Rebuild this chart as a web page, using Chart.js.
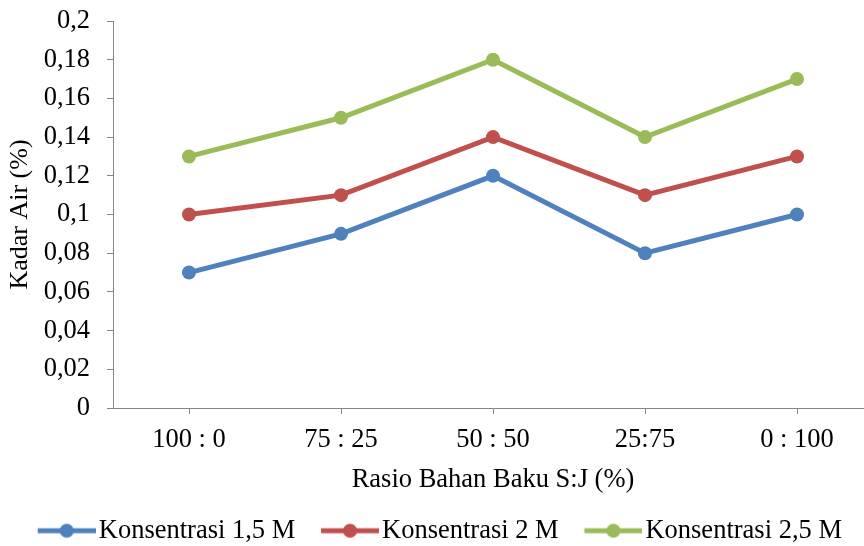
<!DOCTYPE html>
<html>
<head>
<meta charset="utf-8">
<script src="https://cdn.jsdelivr.net/npm/chart.js@4.4.1/dist/chart.umd.min.js"></script>
<style>
  html, body { margin: 0; padding: 0; background: #ffffff; overflow: hidden; width: 864px; height: 546px; }
  #wrap { position: absolute; left: 0; top: 0; width: 880px; height: 554px; }
</style>
</head>
<body>
<div id="wrap"><canvas id="c" width="880" height="554"></canvas></div>
<script>
// ---- data ----
const categories = ['100 : 0', '75 : 25', '50 : 50', '25:75', '0 : 100'];
const seriesNames = ['Konsentrasi 1,5 M', 'Konsentrasi 2 M', 'Konsentrasi 2,5 M'];
const konsentrasi15 = [0.07, 0.09, 0.12, 0.08, 0.10];
const konsentrasi2 = [0.10, 0.11, 0.14, 0.11, 0.13];
const konsentrasi25 = [0.13, 0.15, 0.18, 0.14, 0.17];
const yMin = 0, yMax = 0.2, yStep = 0.02;
const xTitle = 'Rasio Bahan Baku S:J (%)';
const yTitle = 'Kadar Air (%)';

// ---- style ----
const colors = ['#4F81BD', '#C0504D', '#9BBB59'];
const axisColor = '#868686';
const FONT = 'Liberation Serif';
const FS = 26.5;

function legendIcon(color) {
  const c = document.createElement('canvas');
  c.width = 84; c.height = 16;
  const g = c.getContext('2d');
  g.strokeStyle = color; g.lineWidth = 5;
  g.beginPath(); g.moveTo(26, 8); g.lineTo(84, 8); g.stroke();
  g.fillStyle = color;
  g.beginPath(); g.arc(55, 8, 7, 0, Math.PI * 2); g.fill();
  return c;
}
const icons = colors.map(legendIcon);

Chart.defaults.font.family = FONT;
Chart.defaults.font.size = FS;
Chart.defaults.color = '#000000';

const seriesValues = [konsentrasi15, konsentrasi2, konsentrasi25];
const datasets = seriesValues.map((vals, i) => ({
  label: seriesNames[i],
  data: vals,
  borderColor: colors[i],
  backgroundColor: colors[i],
  borderWidth: 5,
  pointRadius: 7,
  pointHoverRadius: 7,
  pointBorderWidth: 0,
  pointBackgroundColor: colors[i],
  tension: 0,
  fill: false
}));

const ctx = document.getElementById('c').getContext('2d');
new Chart(ctx, {
  type: 'line',
  data: { labels: categories, datasets },
  options: {
    responsive: false,
    animation: false,
    devicePixelRatio: 1,
    layout: { padding: { top: 21, right: 6, left: 12, bottom: 0 } },
    plugins: {
      tooltip: { enabled: false },
      legend: {
        position: 'bottom',
        align: 'start',
        labels: {
          usePointStyle: true,
          pointStyleWidth: 63.5,
          padding: 10,
          font: { family: FONT, size: FS },
          color: '#000000',
          generateLabels(chart) {
            const items = Chart.defaults.plugins.legend.labels.generateLabels(chart);
            items.forEach((it, i) => { it.pointStyle = icons[i]; });
            return items;
          }
        }
      }
    },
    scales: {
      x: {
        offset: true,
        grid: { display: true, offset: false, drawOnChartArea: false, drawTicks: true, tickLength: 6, color: axisColor, tickColor: axisColor, lineWidth: 1 },
        border: { display: true, color: axisColor, width: 1 },
        ticks: { padding: 10, font: { family: FONT, size: FS }, color: '#000000', maxRotation: 0 },
        title: { display: true, text: xTitle, font: { family: FONT, size: FS }, color: '#000000', padding: { top: 0, bottom: 12 } },
        afterFit(scale) { scale.height = 99.5; scale.paddingLeft = 0; scale.paddingRight = 0; }
      },
      y: {
        min: yMin, max: yMax,
        grid: { display: true, drawOnChartArea: false, drawTicks: true, tickLength: 6, color: axisColor, tickColor: axisColor, lineWidth: 1 },
        border: { display: true, color: axisColor, width: 1 },
        ticks: {
          stepSize: yStep,
          padding: 17,
          font: { family: FONT, size: FS },
          color: '#000000',
          callback: (v) => String(Math.round(v * 100) / 100).replace('.', ',')
        },
        title: { display: true, text: yTitle, font: { family: FONT, size: 26 }, color: '#000000', padding: { top: -7, bottom: 0 } },
        afterFit(scale) { scale.width = 101; scale.paddingTop = 0; scale.paddingBottom = 0; }
      }
    }
  }
});
</script>
</body>
</html>
